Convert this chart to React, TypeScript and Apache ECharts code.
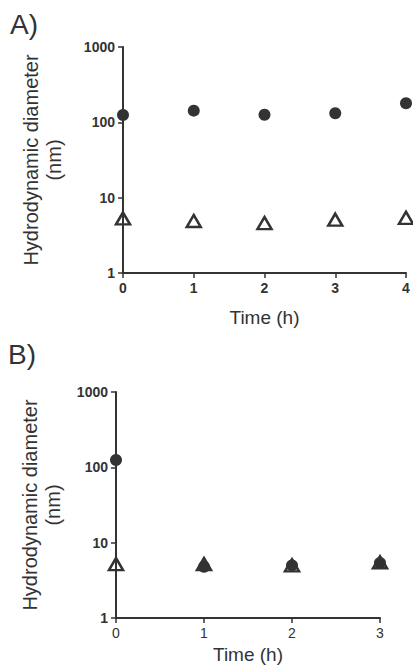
import React, { useEffect, useRef } from "react";
import * as echarts from "echarts";

const timesA = [0, 1, 2, 3, 4];
const circlesA = [125, 143, 126, 132, 179];
const trianglesA = [5.3, 4.9, 4.6, 5.1, 5.4];

const timesB = [0, 1, 2, 3];
const circlesB = [125, 4.8, 5.0, 5.4];
const trianglesB = [5.2, 5.2, 5.0, 5.5];

const yTicks = [1, 10, 100, 1000];
const panelLabels = ["A)", "B)"];
const xName = "Time (h)";
const yName = "Hydrodynamic diameter\n(nm)";

const INK = "#333333";
const FONT = "'Liberation Sans', Arial, sans-serif";

function pairs(xs: number[], ys: number[]) {
  return xs.map((x, i) => [x, ys[i]]);
}

export default function App() {
  const ref = useRef<HTMLDivElement>(null);
  useEffect(() => {
    if (!ref.current) return;
    const chart = echarts.init(ref.current, undefined, { renderer: "svg" });
    const yAxisBase = (gridIndex: number, gap: number) => ({
      type: "log" as const,
      logBase: 10,
      gridIndex,
      min: yTicks[0],
      max: yTicks[yTicks.length - 1],
      name: yName,
      nameLocation: "middle" as const,
      nameGap: gap,
      nameTextStyle: { fontSize: 20, lineHeight: 23, color: INK, fontFamily: FONT },
      axisLine: { show: true, lineStyle: { color: INK, width: 2 } },
      axisTick: { show: true, length: 5, lineStyle: { color: INK, width: 1.5 } },
      minorTick: { show: false },
      splitLine: { show: false },
      axisLabel: {
        fontSize: 14,
        fontWeight: "bold" as const,
        color: INK,
        fontFamily: FONT,
        margin: 8,
        formatter: (v: number) => String(Math.round(v)),
      },
    });
    const xAxisBase = (gridIndex: number, max: number, gap: number, bold: boolean) => ({
      type: "value" as const,
      gridIndex,
      min: 0,
      max,
      interval: 1,
      name: xName,
      nameLocation: "middle" as const,
      nameGap: gap,
      nameTextStyle: { fontSize: 19, color: INK, fontFamily: FONT },
      axisLine: { show: true, onZero: false, lineStyle: { color: INK, width: 2 } },
      axisTick: { show: true, length: 5, lineStyle: { color: INK, width: 1.5 } },
      splitLine: { show: false },
      axisLabel: {
        fontSize: 14,
        fontWeight: bold ? ("bold" as const) : ("normal" as const),
        color: INK,
        fontFamily: FONT,
        margin: 8,
        formatter: (v: number) => String(v),
      },
    });
    const circle = (xi: number, data: number[][]) => ({
      type: "scatter" as const,
      xAxisIndex: xi,
      yAxisIndex: xi,
      data,
      symbol: "circle",
      symbolSize: 12,
      itemStyle: { color: INK, opacity: 1 },
      z: 3,
    });
    const tri = (xi: number, data: number[][]) => ({
      type: "scatter" as const,
      xAxisIndex: xi,
      yAxisIndex: xi,
      data,
      symbol: "triangle",
      symbolSize: [14, 12],
      itemStyle: { color: "rgba(0,0,0,0)", borderColor: INK, borderWidth: 2.5, opacity: 1 },
      z: 4,
    });
    chart.setOption({
      animation: false,
      backgroundColor: "#ffffff",
      grid: [
        { left: 123, right: 7, top: 47, height: 226 },
        { left: 116, right: 33, top: 392, height: 226 },
      ],
      xAxis: [xAxisBase(0, 4, 35, true), xAxisBase(1, 3, 27, false)],
      yAxis: [yAxisBase(0, 58), yAxisBase(1, 52)],
      series: [
        circle(0, pairs(timesA, circlesA)),
        tri(0, pairs(timesA, trianglesA)),
        circle(1, pairs(timesB, circlesB)),
        tri(1, pairs(timesB, trianglesB)),
      ],
      graphic: [
        {
          type: "text",
          left: 10,
          top: 10,
          style: { text: panelLabels[0], fontSize: 28, fill: INK, fontFamily: FONT },
        },
        {
          type: "text",
          left: 8,
          top: 340,
          style: { text: panelLabels[1], fontSize: 28, fill: INK, fontFamily: FONT },
        },
      ],
    });
    return () => chart.dispose();
  }, []);
  return (
    <div
      ref={ref}
      style={{ position: "fixed", left: 0, top: 0, width: 413, height: 667 }}
    />
  );
}
